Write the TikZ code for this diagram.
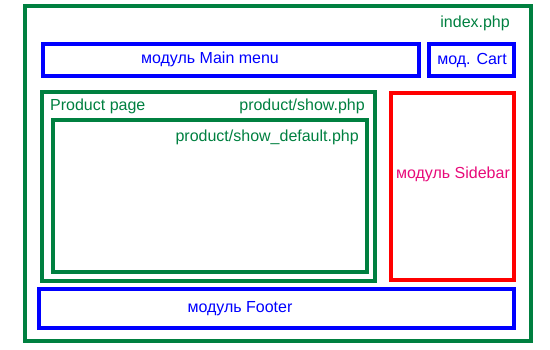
\documentclass[tikz,border=0pt]{standalone}
\usepackage{fontspec}
\setmainfont{Liberation Sans}
\usepackage{tikz}
\usetikzlibrary{positioning}
\usepackage{xcolor}
\definecolor{pagegreen}{RGB}{0,128,64}
\definecolor{modblue}{RGB}{0,0,255}
\definecolor{sidered}{RGB}{255,0,0}
\definecolor{sidepink}{RGB}{232,10,122}

\tikzset{
  frame/.style={line width=4pt},
  lbl/.style={font=\fontsize{16}{19}\selectfont, inner sep=0pt},
}

\begin{document}
\begin{tikzpicture}[x=1pt, y=-1pt]
  \useasboundingbox (0,0) rectangle (550,350);

  % index.php
  \draw[frame, pagegreen] (25,6) rectangle (531,341);
  \node[lbl, pagegreen, anchor=base east] (index) at (510,28) {index.php};

  % header modules
  \draw[frame, modblue] (43,44) rectangle (419,76);
  \node[lbl, modblue, anchor=base] (mainmenu) at (210,64) {модуль Main menu};
  \draw[frame, modblue] (429,44) rectangle (514,76);
  \node[lbl, modblue, anchor=base] (cart) at (472,65) {мод. Cart};

  % product page
  \draw[frame, pagegreen] (42,92) rectangle (375,281);
  \node[lbl, pagegreen, anchor=base west] (prodpage) at (50,111) {Product page};
  \node[lbl, pagegreen, anchor=base east] (show) at (365,111) {product/show.php};
  \draw[frame, pagegreen] (53,120) rectangle (367,272);
  \node[lbl, pagegreen, anchor=base east] (showdef) at (359,142) {product/show\_default.php};

  % sidebar
  \draw[frame, sidered] (391,93) rectangle (514,280);
  \node[lbl, sidepink, anchor=base] (sidebar) at (453,179) {модуль Sidebar};

  % footer
  \draw[frame, modblue] (39,289) rectangle (514,328);
  \node[lbl, modblue, anchor=base] (footer) at (240,313) {модуль Footer};
\end{tikzpicture}
\end{document}
